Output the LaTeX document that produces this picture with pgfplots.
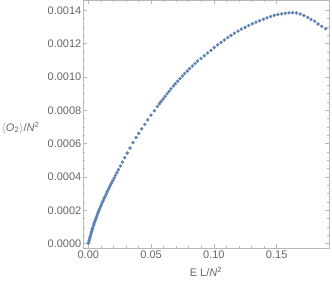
\documentclass[border=0pt]{standalone}
\usepackage{pgfplots}
\pgfplotsset{compat=1.18}
\usepackage{fontspec}
\setmainfont{Liberation Sans}
\definecolor{mpblue}{rgb}{0.368417,0.506779,0.709798}
\definecolor{tickgray}{rgb}{0.40,0.40,0.40}
\definecolor{framegray}{rgb}{0.72,0.72,0.72}
\begin{document}
\begin{tikzpicture}
\begin{axis}[
  name=a,
  at={(0pt,0pt)}, anchor=south west,
  scale only axis,
  width=246pt, height=248pt,
  xmin=-0.00422, xmax=0.19164,
  ymin=-0.0000258, ymax=0.001462,
  xtick={0,0.05,0.1,0.15},
  xticklabels={0.00,0.05,0.10,0.15},
  ytick={0,0.0002,0.0004,0.0006,0.0008,0.0010,0.0012,0.0014},
  yticklabels={0.0000,0.0002,0.0004,0.0006,0.0008,0.0010,0.0012,0.0014},
  scaled ticks=false,
  minor x tick num=4,
  minor y tick num=3,
  tick align=inside,
  major tick length=4pt,
  minor tick length=2pt,
  axis line style={framegray, line width=0.8pt},
  tick style={framegray, line width=0.6pt},
  ticklabel style={font=\fontsize{11}{13}\selectfont, text=tickgray},
  yticklabel style={inner sep=1.5pt},
  xticklabel style={inner sep=3pt},
  xlabel={E L/\textit{N}\textsuperscript{2}},
  ylabel={$\langle$\textit{O}\textsubscript{2}$\rangle$/\textit{N}\textsuperscript{2}},
  label style={font=\fontsize{11}{13}\selectfont, text=tickgray},
  xlabel style={at={(axis description cs:0.5,-0.097)}, anchor=center},
  ylabel style={rotate=-90, at={(axis description cs:-0.163,0.484)}, anchor=east},
]
\addplot[only marks, mark=*, mark size=1.5pt, color=mpblue] coordinates {
(0.0001,0.000003) (0.0003,0.000009) (0.0007,0.000020) (0.0011,0.000031)
(0.0015,0.000042) (0.0019,0.000053) (0.0023,0.000064) (0.0027,0.000074)
(0.0031,0.000084) (0.0035,0.000094) (0.0040,0.000106) (0.0045,0.000118)
(0.0050,0.000129) (0.0055,0.000140) (0.0060,0.000151) (0.0066,0.000163)
(0.0072,0.000175) (0.0078,0.000187) (0.0084,0.000198) (0.0090,0.000209)
(0.0097,0.000222) (0.0104,0.000234) (0.0111,0.000246) (0.0118,0.000258)
(0.0126,0.000272) (0.0134,0.000285) (0.0142,0.000298) (0.0150,0.000311)
(0.0159,0.000325) (0.0168,0.000339) (0.0177,0.000352) (0.0186,0.000365)
(0.0196,0.000379) (0.0206,0.000394) (0.0217,0.000410) (0.0228,0.000426)
(0.0240,0.000444) (0.0255,0.000466) (0.0272,0.000490) (0.0290,0.000516)
(0.0310,0.000544) (0.0332,0.000574) (0.0356,0.000606) (0.0380,0.000637)
(0.0401,0.000662) (0.0425,0.000689) (0.0449,0.000716) (0.0473,0.000743)
(0.0499,0.000771) (0.0526,0.000798) (0.0550,0.000823) (0.0566,0.000839)
(0.0579,0.000853) (0.0595,0.000868) (0.0611,0.000884) (0.0627,0.000899)
(0.0643,0.000914) (0.0658,0.000929) (0.0677,0.000946) (0.0693,0.000960)
(0.0712,0.000975) (0.0730,0.000990) (0.0749,0.001006) (0.0767,0.001021)
(0.0788,0.001036) (0.0807,0.001051) (0.0828,0.001066) (0.0850,0.001081)
(0.0871,0.001096) (0.0897,0.001112) (0.0924,0.001128) (0.0950,0.001144)
(0.0977,0.001160) (0.1003,0.001177) (0.1030,0.001193) (0.1057,0.001208)
(0.1083,0.001222) (0.1110,0.001236) (0.1136,0.001249) (0.1163,0.001262)
(0.1192,0.001275) (0.1218,0.001287) (0.1248,0.001298) (0.1277,0.001309)
(0.1306,0.001319) (0.1335,0.001329) (0.1364,0.001338) (0.1394,0.001346)
(0.1423,0.001355) (0.1452,0.001363) (0.1481,0.001370) (0.1510,0.001375)
(0.1540,0.001379) (0.1569,0.001382) (0.1598,0.001385) (0.1627,0.001386)
(0.1656,0.001384) (0.1686,0.001378) (0.1717,0.001369) (0.1747,0.001358)
(0.1773,0.001346) (0.1802,0.001334) (0.1829,0.001318) (0.1858,0.001304)
(0.1890,0.001290)
};
\end{axis}
\pgfresetboundingbox
\path[use as bounding box] (-83pt,-35pt) rectangle (249pt,248pt);
\end{tikzpicture}
\end{document}
